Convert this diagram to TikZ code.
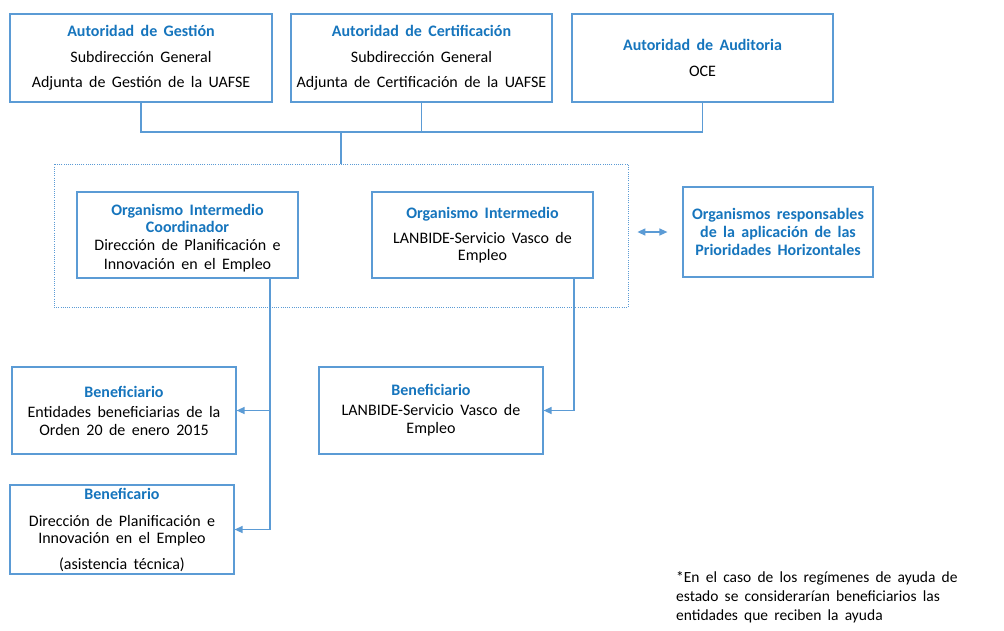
\documentclass[tikz,border=0pt]{standalone}
\usepackage{fontspec}
\setmainfont{Carlito}
\usetikzlibrary{arrows.meta}
\definecolor{bcol}{RGB}{91,155,213}
\definecolor{tcol}{RGB}{22,117,189}
\newcommand\ti[1]{{\bfseries\color{tcol}#1}}
\newcommand\wsp{\spaceskip=0.4em\relax}
\tikzset{
  box/.style={draw=bcol, line width=1.2pt, align=center, inner sep=2pt, text=black},
  conn/.style={draw=bcol, line width=1.3pt},
  arr/.style={conn, -{Triangle[length=8pt,width=7pt]}},
  dbl/.style={conn, {Triangle[length=8pt,width=7pt]}-{Triangle[length=8pt,width=7pt]}},
  dotbox/.style={draw=bcol, line width=0.9pt, dash pattern=on 1pt off 1.2pt},
}
\begin{document}
\begin{tikzpicture}[x=1pt,y=-1pt]
\useasboundingbox[fill=white] (0,0) rectangle (1004,630);

% top authorities
\node[box, minimum width=262pt, minimum height=88pt, font=\fontsize{16}{25.5}\selectfont\wsp] (ag) at (141,58)
  {\ti{Autoridad de Gestión}\\Subdirección General\\Adjunta de Gestión de la UAFSE};
\node[box, minimum width=261pt, minimum height=88pt, font=\fontsize{16}{25.5}\selectfont\wsp] (ac) at (421.5,58)
  {\ti{Autoridad de Certificación}\\Subdirección General\\Adjunta de Certificación de la UAFSE};
\node[box, minimum width=261pt, minimum height=88pt, font=\fontsize{16}{26}\selectfont\wsp] (aa) at (702.5,58)
  {\ti{Autoridad de Auditoria}\\OCE};

% dotted frame
\node[dotbox, minimum width=574pt, minimum height=143pt] (frame) at (341,235.5) {};

% intermediate bodies
\node[box, minimum width=221pt, minimum height=86pt, font=\fontsize{16}{17.5}\selectfont\wsp] (coord) at (187.5,235)
  {\rule{0pt}{18pt}\ti{Organismo Intermedio}\\\ti{Coordinador}\\[0.5pt]Dirección de Planificación e\\[1.5pt]Innovación en el Empleo};
\node[box, minimum width=221pt, minimum height=86pt, font=\fontsize{16}{17.5}\selectfont\wsp] (oi) at (482.5,235)
  {\ti{Organismo Intermedio}\\[7.5pt]LANBIDE-Servicio Vasco de\\Empleo};
\node[box, minimum width=190pt, minimum height=90pt, font=\fontsize{16}{18}\selectfont\wsp] (op) at (778,232)
  {\ti{Organismos responsables}\\\ti{de la aplicación de las}\\\ti{Prioridades Horizontales}};

% beneficiaries
\node[box, minimum width=224pt, minimum height=87pt, font=\fontsize{16}{18}\selectfont\wsp] (b1) at (124,410.5)
  {\ti{Beneficiario}\\[2pt]Entidades beneficiarias de la\\Orden 20 de enero 2015};
\node[box, minimum width=224pt, minimum height=87pt, font=\fontsize{16}{18}\selectfont\wsp] (b2) at (431,410.5)
  {\ti{Beneficiario}\\[2pt]LANBIDE-Servicio Vasco de\\Empleo};
\node[box, minimum width=224pt, minimum height=89pt, font=\fontsize{16}{17}\selectfont\wsp] (b3) at (122,529.5)
  {\ti{Beneficario}\\[10pt]Dirección de Planificación e\\Innovación en el Empleo\\[9pt](asistencia técnica)};

% footnote
\node[anchor=north west, align=left, inner sep=0pt, font=\fontsize{15.5}{19}\selectfont\wsp] (note) at (676,571)
  {*En el caso de los regímenes de ayuda de\\estado se considerarían beneficiarios las\\entidades que reciben la ayuda};

% connectors
\coordinate (jn) at (341,132);
\draw[conn] (ag.south) |- (jn);
\draw[conn] (ac.south) |- (jn);
\draw[conn] (aa.south) |- (jn);
\draw[conn] (jn) -- (frame.north);

\coordinate (cx) at (270,0);
\coordinate (ox) at (574,0);
\draw[arr] (coord.south -| cx) |- (b1.east);
\draw[arr] (coord.south -| cx) |- (b3.east);
\draw[arr] (oi.south -| ox) |- (b2.east);

\draw[dbl] ([xshift=-45pt]op.west) -- ([xshift=-15pt]op.west);
\end{tikzpicture}
\end{document}
